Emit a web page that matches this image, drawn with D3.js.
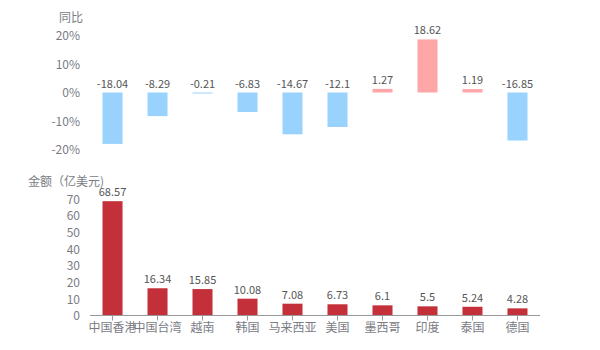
<!DOCTYPE html>
<html>
<head>
<meta charset="utf-8">
<script src="https://cdn.jsdelivr.net/npm/d3@7"></script>
<style>
  body { margin: 0; background: #fff; }
  text { font-family: "Noto Sans CJK SC", "Noto Sans", sans-serif; }
</style>
</head>
<body>
<svg width="600" height="350"></svg>
<script>
// categories and values
const countries = ["中国香港", "中国台湾", "越南", "韩国", "马来西亚", "美国", "墨西哥", "印度", "泰国", "德国"];
const amounts = [68.57, 16.34, 15.85, 10.08, 7.08, 6.73, 6.1, 5.5, 5.24, 4.28];
const yoy = [-18.04, -8.29, -0.21, -6.83, -14.67, -12.1, 1.27, 18.62, 1.19, -16.85];
const yoyTicks = [-20, -10, 0, 10, 20];
const amountTicks = [0, 10, 20, 30, 40, 50, 60, 70];

const svg = d3.select("svg");
const axisGray = "#7a7c84";

const x = d3.scaleBand()
	.domain(countries)
	.range([90, 540])
	.paddingInner(0.555)
	.paddingOuter(0.278);

// top chart: year-on-year
const yTop = d3.scaleLinear().domain([-20, 20]).range([149.5, 35.5]);

const topAxis = svg.append("g")
	.attr("transform", "translate(83,0)")
	.call(d3.axisLeft(yTop).tickValues(yoyTicks).tickSize(0).tickFormat(d => d + "%"));
topAxis.select(".domain").remove();
topAxis.selectAll("text").attr("fill", axisGray).attr("font-size", 12).attr("dy", "0.35em");

svg.append("text")
	.attr("x", 83).attr("y", 22)
	.attr("text-anchor", "end")
	.attr("fill", axisGray).attr("font-size", 12)
	.text("同比");

svg.append("g").selectAll("rect")
	.data(yoy)
	.join("rect")
	.attr("x", (d, i) => x(countries[i]))
	.attr("width", x.bandwidth())
	.attr("y", d => yTop(Math.max(0, d)))
	.attr("height", d => Math.max(1, Math.abs(yTop(d) - yTop(0))))
	.attr("fill", d => d < 0 ? "#99d3fd" : "#ffa6a8");

svg.append("g").selectAll("text")
	.data(yoy)
	.join("text")
	.attr("x", (d, i) => x(countries[i]) + x.bandwidth() / 2)
	.attr("y", d => yTop(Math.max(0, d)) - 5)
	.attr("text-anchor", "middle")
	.attr("fill", "#555").attr("font-size", 11)
	.text(d => d);

// bottom chart: amount
const yBot = d3.scaleLinear().domain([0, 70]).range([315.5, 198.8]);

const botAxis = svg.append("g")
	.attr("transform", "translate(83,0)")
	.call(d3.axisLeft(yBot).tickValues(amountTicks).tickSize(0));
botAxis.select(".domain").remove();
botAxis.selectAll("text").attr("fill", axisGray).attr("font-size", 12).attr("dy", "0.35em");

svg.append("text")
	.attr("x", 28).attr("y", 186)
	.attr("fill", axisGray).attr("font-size", 12)
	.text("金额（亿美元)");

svg.append("g").selectAll("rect")
	.data(amounts)
	.join("rect")
	.attr("x", (d, i) => x(countries[i]))
	.attr("width", x.bandwidth())
	.attr("y", d => yBot(d))
	.attr("height", d => yBot(0) - yBot(d))
	.attr("fill", "#c4303a");

svg.append("g").selectAll("text")
	.data(amounts)
	.join("text")
	.attr("x", (d, i) => x(countries[i]) + x.bandwidth() / 2)
	.attr("y", d => yBot(d) - 5)
	.attr("text-anchor", "middle")
	.attr("fill", "#555").attr("font-size", 11)
	.text(d => d);

const xAxis = svg.append("g")
	.attr("transform", `translate(0,${yBot(0)})`)
	.call(d3.axisBottom(x).tickSize(5).tickPadding(3));
xAxis.select(".domain").attr("stroke", "#999").attr("d", "M90,0H540");
xAxis.selectAll(".tick line").attr("stroke", "#999");
xAxis.selectAll("text").attr("fill", axisGray).attr("font-size", 12);
</script>
</body>
</html>
